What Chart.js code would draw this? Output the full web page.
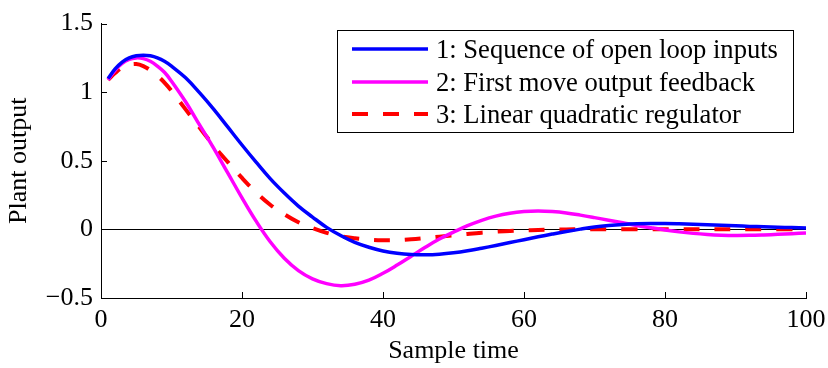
<!DOCTYPE html>
<html lang="en">
<head>
    <meta charset="UTF-8">
    <title>Plant output</title>
    <script src="https://cdn.jsdelivr.net/npm/chart.js"></script>
    <style>
        html, body { margin: 0; padding: 0; background: #fff; }
        #wrap { width: 828px; height: 368px; }
    </style>
</head>
<body>
    <div id="wrap"><canvas id="plantChart" width="828" height="368"></canvas></div>

    <script>
        // sample times shared by all three runs
        const sampleTime = [1, 2, 3, 4, 5, 6, 7, 8, 9, 10, 12, 14, 16, 18, 20, 22, 24, 26, 28, 30,
            32, 34, 36, 38, 40, 42, 44, 46, 48, 50, 52, 54, 56, 58, 60, 62, 64, 66, 68, 70,
            72, 74, 76, 78, 80, 82, 84, 86, 88, 90, 92, 94, 96, 98, 100];

        const openLoop = [1.10, 1.17, 1.22, 1.25, 1.265, 1.27, 1.265, 1.25, 1.225, 1.19, 1.105, 0.995, 0.875, 0.745, 0.615, 0.49, 0.37, 0.265, 0.17, 0.09,
            0.015, -0.045, -0.095, -0.13, -0.157, -0.174, -0.183, -0.185, -0.181, -0.171, -0.156, -0.137, -0.117, -0.096, -0.075, -0.054, -0.034, -0.015, 0.002, 0.017,
            0.028, 0.036, 0.041, 0.043, 0.043, 0.041, 0.038, 0.034, 0.03, 0.026, 0.022, 0.019, 0.016, 0.013, 0.01];

        const firstMove = [1.09, 1.16, 1.21, 1.24, 1.25, 1.245, 1.225, 1.19, 1.145, 1.08, 0.93, 0.76, 0.59, 0.41, 0.23, 0.06, -0.09, -0.21, -0.30, -0.36,
            -0.395, -0.41, -0.40, -0.37, -0.32, -0.26, -0.195, -0.13, -0.07, -0.02, 0.027, 0.066, 0.097, 0.118, 0.13, 0.134, 0.13, 0.12, 0.104, 0.086,
            0.067, 0.048, 0.029, 0.012, -0.004, -0.018, -0.029, -0.037, -0.042, -0.044, -0.043, -0.04, -0.036, -0.031, -0.026];

        const lqr = [1.09, 1.14, 1.18, 1.20, 1.205, 1.19, 1.16, 1.12, 1.07, 1.01, 0.875, 0.74, 0.61, 0.49, 0.375, 0.27, 0.18, 0.11, 0.052, 0.01,
            -0.025, -0.05, -0.065, -0.075, -0.079, -0.078, -0.072, -0.063, -0.053, -0.043, -0.033, -0.024, -0.017, -0.011, -0.007, -0.004, -0.002, 0, 0.001, 0.001,
            0.001, 0.001, 0.001, 0.001, 0.001, 0.001, 0.001, 0.001, 0.001, 0.001, 0.001, 0.001, 0.001, 0.001, 0.001];

        const seriesLabels = ['1: Sequence of open loop inputs', '2: First move output feedback', '3: Linear quadratic regulator'];
        const xTicks = [0, 20, 40, 60, 80, 100];
        const yTicks = [-0.5, 0, 0.5, 1, 1.5];

        const serif = '"Liberation Serif", "DejaVu Serif", serif';
        Chart.defaults.font.family = serif;
        Chart.defaults.color = '#000';

        function toPoints(ys) {
            return sampleTime.map((x, i) => ({ x: x, y: ys[i] }));
        }

        // ticks pointing into the plot, plus the legend box
        const decorations = {
            id: 'decorations',
            afterDatasetsDraw(chart) {
                const ctx = chart.ctx;
                const area = chart.chartArea;
                const xs = chart.scales.x;
                const ys = chart.scales.y;
                ctx.save();
                ctx.strokeStyle = '#000';
                ctx.lineWidth = 1;
                ctx.beginPath();
                xTicks.forEach(v => {
                    const px = Math.round(xs.getPixelForValue(v)) + 0.5;
                    ctx.moveTo(px, area.bottom);
                    ctx.lineTo(px, area.bottom - 6);
                });
                yTicks.forEach(v => {
                    const py = Math.round(ys.getPixelForValue(v)) + 0.5;
                    ctx.moveTo(area.left, py);
                    ctx.lineTo(area.left + 6, py);
                });
                ctx.stroke();

                // legend
                const bx = 337.5, by = 30.5, bw = 456, bh = 102;
                ctx.fillStyle = '#fff';
                ctx.fillRect(bx, by, bw, bh);
                ctx.strokeRect(bx, by, bw, bh);
                const rowY = [49, 82, 114];
                chart.data.datasets.forEach((ds, i) => {
                    ctx.save();
                    ctx.strokeStyle = ds.borderColor;
                    ctx.lineWidth = ds.borderWidth;
                    ctx.setLineDash(ds.borderDash || []);
                    ctx.beginPath();
                    ctx.moveTo(352, rowY[i]);
                    ctx.lineTo(428, rowY[i]);
                    ctx.stroke();
                    ctx.restore();
                    ctx.fillStyle = '#000';
                    ctx.font = '26.6px ' + serif;
                    ctx.textBaseline = 'middle';
                    ctx.textAlign = 'left';
                    ctx.fillText(ds.label, 436, rowY[i] + 2);
                });
                ctx.restore();
            }
        };

        const plantChart = new Chart(document.getElementById('plantChart').getContext('2d'), {
            type: 'line',
            data: {
                datasets: [
                    { label: seriesLabels[0], data: toPoints(openLoop), borderColor: '#0000ff', borderWidth: 3.5 },
                    { label: seriesLabels[1], data: toPoints(firstMove), borderColor: '#ff00ff', borderWidth: 3.5 },
                    { label: seriesLabels[2], data: toPoints(lqr), borderColor: '#ff0000', borderWidth: 4, borderDash: [16, 15] }
                ]
            },
            options: {
                responsive: false,
                animation: false,
                devicePixelRatio: 1,
                elements: {
                    point: { radius: 0 },
                    line: { tension: 0.4, fill: false }
                },
                layout: { padding: { top: 17, right: 22, left: 0, bottom: 0 } },
                scales: {
                    x: {
                        type: 'linear',
                        min: 0,
                        max: 100,
                        afterFit: s => { s.height = 70; s.paddingLeft = 0; s.paddingRight = 0; },
                        afterBuildTicks: s => { s.ticks = xTicks.map(v => ({ value: v })); },
                        grid: { display: true, drawOnChartArea: false, drawTicks: false },
                        border: { display: true, color: '#000', width: 1 },
                        ticks: { font: { size: 26 }, padding: 7, maxRotation: 0 },
                        title: { display: true, text: 'Sample time', font: { size: 26 }, padding: { top: 0, bottom: 1 } }
                    },
                    y: {
                        type: 'linear',
                        min: -0.5,
                        max: 1.5,
                        afterFit: s => { s.width = 101; },
                        afterBuildTicks: s => { s.ticks = yTicks.map(v => ({ value: v })); },
                        grid: {
                            display: true,
                            drawTicks: false,
                            color: c => (c.tick && c.tick.value === 0 ? '#000' : 'rgba(0,0,0,0)'),
                            lineWidth: 1
                        },
                        border: { display: true, color: '#000', width: 1 },
                        ticks: {
                            font: { size: 26 },
                            padding: 8,
                            callback: v => String(v).replace('-', '\u2212')
                        },
                        title: { display: true, text: 'Plant output', font: { size: 26 }, padding: { top: 4, bottom: 0 } }
                    }
                },
                plugins: {
                    legend: { display: false },
                    tooltip: { enabled: false }
                }
            },
            plugins: [decorations]
        });
    </script>
</body>
</html>
